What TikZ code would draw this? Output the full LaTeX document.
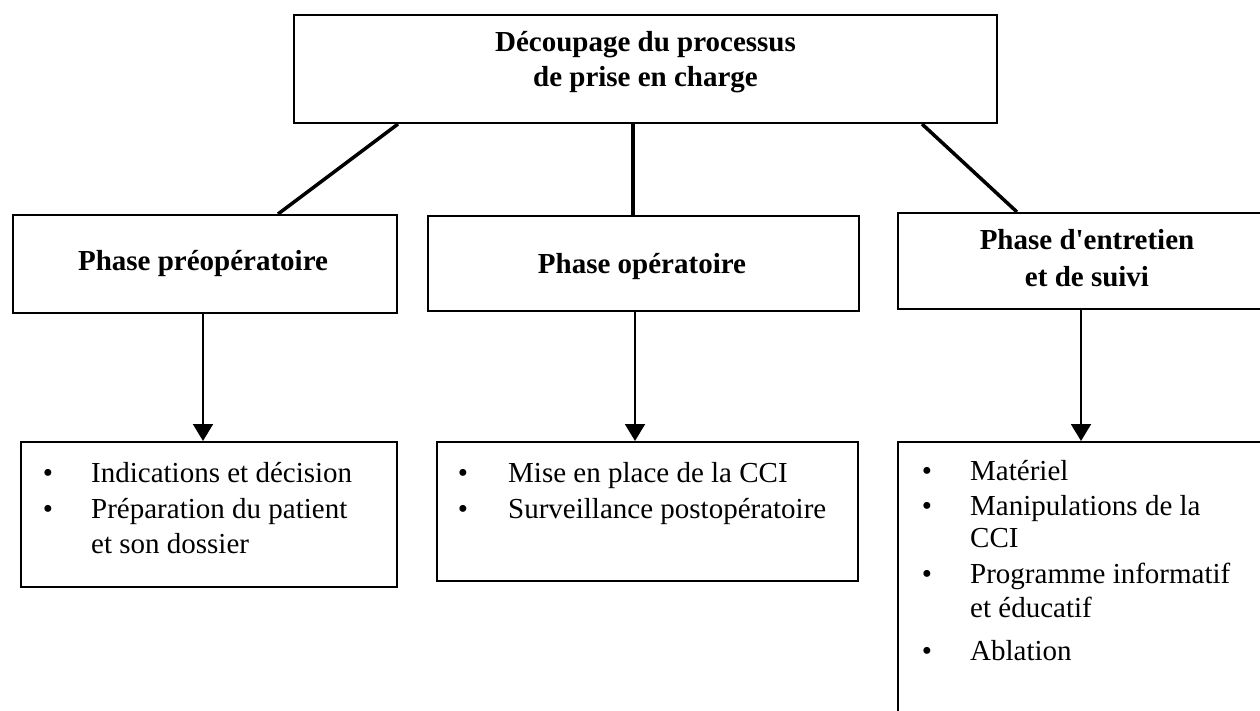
\documentclass[tikz,border=0pt]{standalone}
\usepackage{fontspec}
\setmainfont{Liberation Serif}
\usetikzlibrary{fit,arrows.meta}
\begin{document}
\begin{tikzpicture}[x=1pt,y=-1pt,
  box/.style={draw=black, line width=2pt, inner sep=0pt},
  conn/.style={line width=3.5pt},
  arr/.style={line width=2pt, -{Triangle[width=20pt,length=17pt]}},
  tt/.style={font=\fontsize{29}{35}\selectfont\bfseries, inner sep=0pt, anchor=base},
  it/.style={font=\fontsize{29}{35}\selectfont, inner sep=0pt, anchor=base west},
  bul/.style={font=\fontsize{29}{35}\selectfont, inner sep=0pt, anchor=base}]
\clip (0,0) rectangle (1260,711);
\fill[white] (0,0) rectangle (1260,711);

% boxes
\node[box, fit={(294,15) (997,123)}] (top) {};
\node[box, fit={(13,215) (397,313)}] (pre) {};
\node[box, fit={(428,216) (859,311)}] (op) {};
\node[box, fit={(898,213) (1276,309)}] (ent) {};
\node[box, fit={(21,442) (397,587)}] (preL) {};
\node[box, fit={(437,442) (858,581)}] (opL) {};
\node[box, fit={(898,442) (1276,740)}] (entL) {};

% connectors
\draw[conn] ([xshift=-247.5pt]top.south) -- ([xshift=73pt]pre.north);
\draw[conn] ([xshift=-12.5pt]top.south) -- ([xshift=-10.5pt]op.north);
\draw[conn] ([xshift=276.5pt]top.south) -- ([xshift=-70pt]ent.north);

\draw[arr] ([xshift=-2pt]pre.south) -- ([xshift=-2pt]pre.south |- preL.north);
\draw[arr] ([xshift=-8.5pt]op.south) -- ([xshift=-8.5pt]op.south |- opL.north);
\draw[arr] ([xshift=-6pt]ent.south) -- ([xshift=-6pt]ent.south |- entL.north);

% titles
\node[tt] (t1) at (645.5,52) {Découpage du processus};
\node[tt] (t2) at (645.5,87) {de prise en charge};
\node[tt] (preT) at (203,270) {Phase préopératoire};
\node[tt] (opT) at (642,273) {Phase opératoire};
\node[tt] (entT1) at (1087,250) {Phase d\textquotesingle entretien};
\node[tt] (entT2) at (1087,287) {et de suivi};

% left list
\node[bul] (lb1) at (48,482) {•};
\node[it] (l1) at (91,482) {Indications et décision};
\node[bul] (lb2) at (48,518) {•};
\node[it] (l2) at (91,518) {Préparation du patient};
\node[it] (l3) at (91,553) {et son dossier};

% middle list
\node[bul] (mb1) at (463,482) {•};
\node[it] (m1) at (508,482) {Mise en place de la CCI};
\node[bul] (mb2) at (463,518) {•};
\node[it] (m2) at (508,518) {Surveillance postopératoire};

% right list
\node[bul] (rb1) at (927,480) {•};
\node[it] (r1) at (970,480) {Matériel};
\node[bul] (rb2) at (927,515) {•};
\node[it] (r2) at (970,515) {Manipulations de la};
\node[it] (r3) at (970,547) {CCI};
\node[bul] (rb3) at (927,583) {•};
\node[it] (r4) at (970,583) {Programme informatif};
\node[it] (r5) at (970,617) {et éducatif};
\node[bul] (rb4) at (927,660) {•};
\node[it] (r6) at (970,660) {Ablation};
\end{tikzpicture}
\end{document}
